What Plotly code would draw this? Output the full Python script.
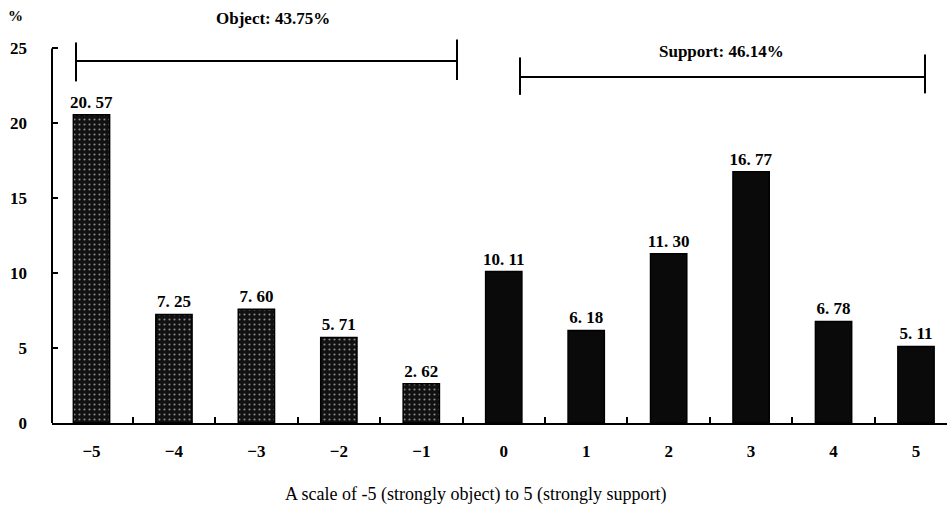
import plotly.graph_objects as go

scale = [-5, -4, -3, -2, -1, 0, 1, 2, 3, 4, 5]
tick_labels = ["−5", "−4", "−3", "−2", "−1", "0", "1", "2", "3", "4", "5"]
percent = [20.57, 7.25, 7.60, 5.71, 2.62, 10.11, 6.18, 11.30, 16.77, 6.78, 5.11]
value_labels = ["20. 57", "7. 25", "7. 60", "5. 71", "2. 62", "10. 11",
                "6. 18", "11. 30", "16. 77", "6. 78", "5. 11"]
y_ticks = [0, 5, 10, 15, 20, 25]
object_label = "Object: 43.75%"
support_label = "Support: 46.14%"
x_title = "A scale of -5 (strongly object) to 5 (strongly support)"

serif = "Liberation Serif"

obj_x = [s for s in scale if s < 0]
obj_y = percent[:5]
obj_t = value_labels[:5]
sup_x = [s for s in scale if s >= 0]
sup_y = percent[5:]
sup_t = value_labels[5:]

fig = go.Figure()
fig.add_trace(go.Bar(
    x=obj_x, y=obj_y, text=obj_t, textposition="outside", constraintext="none",
    width=0.44,
    marker=dict(color="#111111", line=dict(color="#000000", width=1.5),
                pattern=dict(shape=".", fgcolor="#ffffff", bgcolor="#111111",
                             size=5, solidity=0.15)),
    textfont=dict(family=serif, size=17, color="black", weight="bold"),
    cliponaxis=False, showlegend=False,
))
fig.add_trace(go.Bar(
    x=sup_x, y=sup_y, text=sup_t, textposition="outside", constraintext="none",
    width=0.44,
    marker=dict(color="#0a0a0a", line=dict(color="#000000", width=1.5)),
    textfont=dict(family=serif, size=17, color="black", weight="bold"),
    cliponaxis=False, showlegend=False,
))

line_style = dict(color="black", width=2)
shapes = [
    dict(type="line", xref="paper", yref="y", x0=0, x1=0, y0=0, y1=25, line=line_style),
    dict(type="line", xref="x", yref="y", x0=-5.188, x1=-0.567, y0=24.17, y1=24.17, line=line_style),
    dict(type="line", xref="x", yref="y", x0=-5.188, x1=-5.188, y0=22.8, y1=25.4, line=line_style),
    dict(type="line", xref="x", yref="y", x0=-0.567, x1=-0.567, y0=22.9, y1=25.6, line=line_style),
    dict(type="line", xref="x", yref="y", x0=0.197, x1=5.109, y0=23.1, y1=23.1, line=line_style),
    dict(type="line", xref="x", yref="y", x0=0.197, x1=0.197, y0=21.9, y1=24.4, line=line_style),
    dict(type="line", xref="x", yref="y", x0=5.109, x1=5.109, y0=22.0, y1=24.6, line=line_style),
]

annotations = [
    dict(text=object_label, x=-2.799, y=27.0, xref="x", yref="y", showarrow=False,
         xanchor="center", yanchor="middle",
         font=dict(family=serif, size=17, color="black", weight="bold")),
    dict(text=support_label, x=2.646, y=24.8, xref="x", yref="y", showarrow=False,
         xanchor="center", yanchor="middle",
         font=dict(family=serif, size=17, color="black", weight="bold")),
    dict(text="%", x=-0.041, y=0.967, xref="paper", yref="paper", showarrow=False,
         xanchor="center", yanchor="middle",
         font=dict(family=serif, size=15, color="black", weight="bold")),
    dict(text=x_title, x=0.473, y=-0.169, xref="paper", yref="paper", showarrow=False,
         xanchor="center", yanchor="middle",
         font=dict(family=serif, size=18, color="black")),
]

fig.update_layout(
    width=947, height=524,
    margin=dict(l=52, r=0, t=2, b=101),
    paper_bgcolor="white", plot_bgcolor="white",
    shapes=shapes, annotations=annotations,
    bargap=0.5,
    xaxis=dict(
        range=[-5.479, 5.376], showgrid=False, zeroline=False, automargin=False,
        showline=True, linecolor="black", linewidth=2,
        tickvals=scale, ticktext=tick_labels, ticks="",
        tickfont=dict(family=serif, size=17, color="black", weight="bold"),
        ticklabelstandoff=12,
        minor=dict(tickvals=[s + 0.5 for s in scale[:-1]], ticks="inside",
                   ticklen=6, tickcolor="black", tickwidth=1.5),
    ),
    yaxis=dict(
        range=[0, 28.1], showgrid=False, zeroline=False, showline=False, automargin=False,
        tickvals=y_ticks, ticks="inside", ticklen=6, tickcolor="black", tickwidth=1.5,
        tickfont=dict(family=serif, size=17, color="black", weight="bold"),
        ticklabelstandoff=24,
    ),
)

fig.write_html("out.html", config={"displayModeBar": False},
               post_script="document.body.style.margin='0px';")
